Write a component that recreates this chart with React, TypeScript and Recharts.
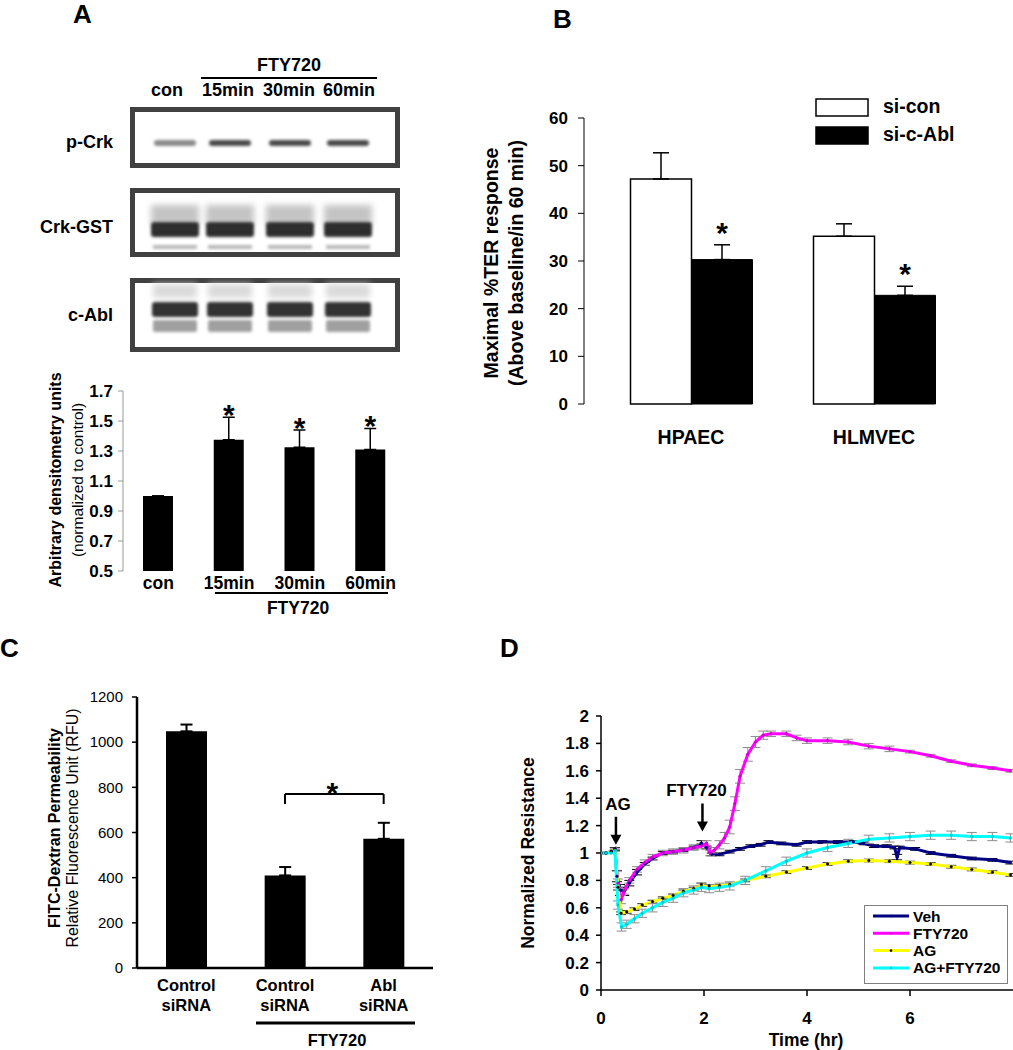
import React from "react";
import {
  BarChart,
  Bar,
  XAxis,
  YAxis,
  ErrorBar,
  LabelList,
  LineChart,
  Line,
  Legend,
  ReferenceLine,
  ReferenceDot,
  Label,
} from "recharts";

const FONT = '"Liberation Sans", Arial, Helvetica, sans-serif';

// panel A: densitometry of p-Crk
const aCategories = ["con", "15min", "30min", "60min"];
const aValues = [1.0, 1.375, 1.325, 1.31];
const aErrors = [0, 0.15, 0.115, 0.14];
const aSignificant = [false, true, true, true];
const aTicks = [0.5, 0.7, 0.9, 1.1, 1.3, 1.5, 1.7];
const blotRows = ["p-Crk", "Crk-GST", "c-Abl"];

// panel B: maximal TER response
const bCategories = ["HPAEC", "HLMVEC"];
const bSeriesNames = ["si-con", "si-c-Abl"];
const bSiCon = [47.2, 35.2];
const bSiConErr = [5.5, 2.6];
const bSiAbl = [30.3, 22.8];
const bSiAblErr = [3.1, 1.9];
const bSignificant = [true, true];
const bTicks = [0, 10, 20, 30, 40, 50, 60];

// panel C: FITC-dextran permeability
const cKeys = ["ctl", "ctlFty", "abl"];
const cLabels = [
  ["Control", "siRNA"],
  ["Control", "siRNA"],
  ["Abl", "siRNA"],
];
const cValues = [1048, 410, 572];
const cErrors = [30, 37, 71];
const cTicks = [0, 200, 400, 600, 800, 1000, 1200];
const cBracket = { from: "ctlFty", to: "abl", y: 770, foot: 726 };

// panel D: normalized resistance time course
const vehTime = [0, 0.1, 0.2, 0.27, 0.31, 0.37, 0.45, 0.55, 0.7, 0.85, 1.0, 1.2, 1.4, 1.6, 1.8, 1.95, 2.05, 2.15, 2.3, 2.5, 2.7, 2.9, 3.1, 3.25, 3.5, 3.8, 4.0, 4.3, 4.6, 4.9, 5.1, 5.3, 5.55, 5.7, 5.75, 5.8, 6.1, 6.4, 6.8, 7.2, 7.6, 7.95];
const vehValue = [1.0, 1.0, 1.01, 1.03, 0.83, 0.73, 0.72, 0.78, 0.86, 0.92, 0.96, 1.0, 1.01, 1.02, 1.04, 1.07, 1.04, 0.99, 0.99, 1.01, 1.03, 1.05, 1.06, 1.08, 1.07, 1.06, 1.08, 1.08, 1.08, 1.08, 1.07, 1.05, 1.05, 1.04, 0.97, 1.04, 1.03, 1.0, 0.98, 0.96, 0.95, 0.93];
const vehErr = [0, 0, 0, 0.01, 0.04, 0.04, 0.03, 0.02, 0.02, 0.01, 0.01, 0.01, 0.01, 0.01, 0.01, 0.02, 0.01, 0.01, 0.01, 0.01, 0.01, 0.01, 0.01, 0.01, 0.01, 0.01, 0.01, 0.01, 0.01, 0.01, 0.01, 0.01, 0.01, 0.01, 0.02, 0.01, 0.01, 0.01, 0.01, 0.01, 0.01, 0.01];

const ftyTime = [0, 0.1, 0.2, 0.27, 0.33, 0.39, 0.45, 0.55, 0.7, 0.85, 1.0, 1.2, 1.4, 1.6, 1.8, 1.95, 2.05, 2.12, 2.2, 2.3, 2.4, 2.5, 2.6, 2.7, 2.85, 3.0, 3.15, 3.3, 3.6, 3.8, 4.0, 4.4, 4.8, 5.2, 5.6, 6.0, 6.4, 6.8, 7.2, 7.6, 7.95];
const ftyValue = [1.0, 1.0, 1.01, 1.03, 0.78, 0.66, 0.72, 0.8, 0.88, 0.93, 0.97, 1.0, 1.01, 1.02, 1.04, 1.05, 1.07, 1.0, 1.02, 1.06, 1.11, 1.19, 1.36, 1.56, 1.72, 1.81, 1.86, 1.87, 1.87, 1.84, 1.82, 1.82, 1.81, 1.78, 1.76, 1.74, 1.71, 1.67, 1.64, 1.62, 1.6];
const ftyErr = [0, 0, 0, 0.01, 0.03, 0.03, 0.02, 0.02, 0.02, 0.02, 0.02, 0.02, 0.02, 0.02, 0.02, 0.02, 0.02, 0.02, 0.02, 0.03, 0.04, 0.05, 0.05, 0.05, 0.05, 0.04, 0.03, 0.02, 0.02, 0.02, 0.02, 0.02, 0.02, 0.02, 0.02, 0.01, 0.01, 0.01, 0.01, 0.01, 0.01];

const agTime = [0, 0.1, 0.2, 0.27, 0.33, 0.39, 0.5, 0.65, 0.8, 1.0, 1.2, 1.4, 1.6, 1.8, 1.95, 2.1, 2.3, 2.5, 2.8, 3.2, 3.6, 4.0, 4.4, 4.8, 5.2, 5.6, 6.0, 6.4, 6.8, 7.2, 7.6, 7.95];
const agValue = [1.0, 1.0, 1.01, 1.03, 0.75, 0.56, 0.57, 0.59, 0.62, 0.645, 0.67, 0.69, 0.72, 0.74, 0.77, 0.76, 0.76, 0.77, 0.8, 0.83, 0.86, 0.89, 0.92, 0.94, 0.945, 0.94, 0.93, 0.92, 0.9, 0.88, 0.86, 0.84];
const agErr = [0, 0, 0, 0.01, 0.02, 0.01, 0.01, 0.01, 0.01, 0.01, 0.01, 0.01, 0.01, 0.01, 0.01, 0.01, 0.01, 0.01, 0.01, 0.01, 0.01, 0.01, 0.01, 0.01, 0.01, 0.01, 0.01, 0.01, 0.01, 0.01, 0.01, 0.01];

const agFtyTime = [0, 0.1, 0.2, 0.27, 0.33, 0.4, 0.5, 0.65, 0.8, 1.0, 1.2, 1.4, 1.6, 1.8, 1.95, 2.1, 2.3, 2.5, 2.8, 3.2, 3.6, 4.0, 4.4, 4.8, 5.2, 5.6, 6.0, 6.4, 6.8, 7.2, 7.6, 7.95];
const agFtyValue = [1.0, 1.0, 1.0, 1.02, 0.62, 0.46, 0.48, 0.52, 0.56, 0.6, 0.64, 0.67, 0.71, 0.73, 0.75, 0.74, 0.75, 0.76, 0.8, 0.87, 0.94, 1.0, 1.04, 1.07, 1.1, 1.11, 1.12, 1.13, 1.13, 1.12, 1.12, 1.11];
const agFtyErr = [0, 0, 0, 0.01, 0.03, 0.03, 0.03, 0.03, 0.03, 0.03, 0.03, 0.03, 0.03, 0.03, 0.03, 0.03, 0.03, 0.03, 0.03, 0.03, 0.03, 0.03, 0.03, 0.03, 0.03, 0.03, 0.03, 0.03, 0.03, 0.03, 0.03, 0.03];

const dTimeTicks = [0, 2, 4, 6];
const dValueTicks = [0, 0.2, 0.4, 0.6, 0.8, 1, 1.2, 1.4, 1.6, 1.8, 2];
const dArrows = [
  { label: "AG", t: 0.29, v: 1.06, dx: 2 },
  { label: "FTY720", t: 1.97, v: 1.157, dx: -6 },
];

const aData = aCategories.map((name, i) => ({ name, v: aValues[i], e: [0, aErrors[i]] }));
const bData = bCategories.map((name, i) => ({
  name,
  con: bSiCon[i],
  conErr: [0, bSiConErr[i]],
  abl: bSiAbl[i],
  ablErr: [0, bSiAblErr[i]],
}));
const cData = cKeys.map((key, i) => ({ key, v: cValues[i], e: [0, cErrors[i]] }));

const rows = (time: number[], value: number[], err: number[]) =>
  time.map((t, i) => ({ t, v: value[i], e: err[i] }));

const dSeries = [
  { name: "Veh", color: "#000080", dot: "#000080", err: "#000000", data: rows(vehTime, vehValue, vehErr) },
  { name: "FTY720", color: "#ff00ff", dot: "#d000d0", err: "#8c8c8c", data: rows(ftyTime, ftyValue, ftyErr) },
  { name: "AG", color: "#ffff00", dot: "#000000", err: "#333333", data: rows(agTime, agValue, agErr) },
  { name: "AG+FTY720", color: "#00ffff", dot: "#00c8c8", err: "#8c8c8c", data: rows(agFtyTime, agFtyValue, agFtyErr) },
];

const boldTick = (size: number) => ({
  fill: "#000",
  fontSize: size,
  fontWeight: "bold" as const,
  fontFamily: FONT,
});

// legend entries come back sorted by name; put them back in series order
const inOrder = (payload: any[], names: string[]) =>
  [...payload].sort((a, b) => names.indexOf(a.value) - names.indexOf(b.value));

function starContent(values: number[], base: number, errors: number[], flags: boolean[], lift: number) {
  return (props: any) => {
    const i = props.index;
    if (i == null || !flags[i]) return null;
    const vb = props.viewBox ?? props;
    const { x, y, width, height } = vb;
    const ppu = height / (values[i] - base);
    const top = y - errors[i] * ppu;
    return (
      <text
        x={x + width / 2}
        y={top + lift}
        textAnchor="middle"
        fontSize={30}
        fontWeight="bold"
        fontFamily={FONT}
        fill="#000"
      >
        *
      </text>
    );
  };
}

function CTick(props: any) {
  const { x, y, payload } = props;
  const idx = cKeys.indexOf(payload.value);
  const lines = cLabels[idx] ?? ["", ""];
  return (
    <text x={x} y={y} textAnchor="middle" fontSize={16.5} fontWeight="bold" fontFamily={FONT} fill="#000">
      <tspan x={x} dy={23}>
        {lines[0]}
      </tspan>
      <tspan x={x} dy={20}>
        {lines[1]}
      </tspan>
    </text>
  );
}

function LegendB(props: any) {
  const items = inOrder(props.payload ?? [], bSeriesNames);
  return (
    <svg width={190} height={50} style={{ display: "block", overflow: "visible" }}>
      {items.map((p: any, i: number) => (
        <g key={i}>
          <rect x={1} y={1 + i * 28} width={52} height={17} fill={p.color} stroke="#000" strokeWidth={1.5} />
          <text x={68} y={15 + i * 28} fontSize={19.5} fontWeight="bold" fontFamily={FONT} fill="#000">
            {p.value}
          </text>
        </g>
      ))}
    </svg>
  );
}

function LegendD(props: any) {
  const items = inOrder(props.payload ?? [], dSeries.map((d) => d.name));
  return (
    <svg width={144} height={79} style={{ display: "block" }}>
      <rect x={0.5} y={0.5} width={143} height={78} fill="#fff" stroke="#808080" strokeWidth={1} />
      {items.map((p: any, i: number) => {
        const cy = 11 + i * 17.3;
        const s = dSeries.find((d) => d.name === p.value);
        return (
          <g key={i}>
            <line x1={9} x2={45} y1={cy} y2={cy} stroke={p.color} strokeWidth={3} />
            <circle cx={27} cy={cy} r={1.3} fill={s ? s.dot : p.color} />
            <text x={49} y={cy + 5.5} fontSize={15.5} fontWeight="bold" fontFamily={FONT} fill="#000">
              {p.value}
            </text>
          </g>
        );
      })}
    </svg>
  );
}

function arrowShape(label: string, dx: number) {
  return (props: any) => {
    const { cx, cy } = props;
    return (
      <g>
        <line x1={cx} x2={cx} y1={cy - 28} y2={cy - 8} stroke="#000" strokeWidth={2.5} />
        <polygon points={`${cx - 5.5},${cy - 10} ${cx + 5.5},${cy - 10} ${cx},${cy}`} fill="#000" />
        <text x={cx + dx} y={cy - 35} textAnchor="middle" fontSize={17} fontWeight="bold" fontFamily={FONT} fill="#000">
          {label}
        </text>
      </g>
    );
  };
}

function Blot() {
  const lanes = [175, 230, 290, 348];
  const boxes = [
    { y: 107, h: 61 },
    { y: 188, h: 69 },
    { y: 278, h: 74 },
  ];
  return (
    <g>
      <defs>
        <filter id="soft" x="-20%" y="-50%" width="140%" height="200%">
          <feGaussianBlur stdDeviation="1.6" />
        </filter>
        <filter id="haze" x="-20%" y="-50%" width="140%" height="200%">
          <feGaussianBlur stdDeviation="3" />
        </filter>
      </defs>
      {boxes.map((b, i) => (
        <rect key={i} x={132.5} y={b.y + 2.5} width={265} height={b.h - 5} fill="#fff" stroke="#404040" strokeWidth={5} />
      ))}
      {lanes.map((c, i) => (
        <g key={i}>
          <rect x={c - 21} y={140} width={42} height={6} rx={3} fill={i === 0 ? "#8a8a8a" : "#4a4a4a"} filter="url(#soft)" />
          <rect x={c - 24} y={205} width={48} height={20} fill="#c4c4c4" filter="url(#haze)" />
          <rect x={c - 24} y={222} width={48} height={15} rx={3} fill="#2e2e2e" filter="url(#soft)" />
          <rect x={c - 22} y={245} width={44} height={4} fill="#b8b8b8" filter="url(#soft)" />
          <rect x={c - 22} y={284} width={44} height={14} fill="#dadada" filter="url(#haze)" />
          <rect x={c - 23} y={302} width={46} height={15} rx={3} fill="#333" filter="url(#soft)" />
          <rect x={c - 22} y={320} width={44} height={12} rx={2} fill="#a0a0a0" filter="url(#soft)" />
        </g>
      ))}
    </g>
  );
}

const t = (size: number, bold = true) => ({
  fontSize: size,
  fontWeight: bold ? ("bold" as const) : ("normal" as const),
  fontFamily: FONT,
  fill: "#000",
});

function Overlay() {
  const vLabel = (x: number, y: number, text: string, size: number, bold = true) => (
    <text x={x} y={y} transform={`rotate(-90 ${x} ${y})`} textAnchor="middle" dominantBaseline="central" {...t(size, bold)}>
      {text}
    </text>
  );
  return (
    <svg width={1013} height={1050} style={{ position: "absolute", left: 0, top: 0, pointerEvents: "none" }}>
      {/* panel letters */}
      <text x={73} y={23} {...t(26)}>A</text>
      <text x={553} y={28} {...t(26)}>B</text>
      <text x={0} y={657} {...t(26)}>C</text>
      <text x={500} y={657} {...t(26)}>D</text>

      {/* western blot */}
      <Blot />
      <text x={289} y={71} textAnchor="middle" {...t(18)}>FTY720</text>
      <line x1={201} x2={377} y1={78} y2={78} stroke="#000" strokeWidth={2} />
      {aCategories.map((c, i) => (
        <text key={c} x={[167, 228, 289, 349][i]} y={96} textAnchor="middle" {...t(18)}>
          {c}
        </text>
      ))}
      {blotRows.map((r, i) => (
        <text key={r} x={113} y={[148, 233, 321][i]} textAnchor="end" {...t(18)}>
          {r}
        </text>
      ))}

      {/* panel A chart annotations */}
      {vLabel(55, 480, "Arbitrary densitometry units", 16)}
      {vLabel(77, 480, "(normalized to control)", 15.5, false)}
      <line x1={215} x2={388} y1={593} y2={593} stroke="#000" strokeWidth={2} />
      <text x={298} y={614} textAnchor="middle" {...t(17.5)}>FTY720</text>

      {/* panel B */}
      {vLabel(491, 263, "Maximal %TER response", 19.5)}
      {vLabel(516, 263, "(Above baseline/in 60 min)", 19.5)}

      {/* panel C */}
      {vLabel(54, 828, "FITC-Dextran Permeability", 16)}
      {vLabel(72, 828, "Relative Fluorescence Unit (RFU)", 16, false)}
      <line x1={256} x2={415} y1={1023} y2={1023} stroke="#000" strokeWidth={3} />
      <text x={337} y={1046} textAnchor="middle" {...t(16.5)}>FTY720</text>

      {/* panel D */}
      {vLabel(528, 853, "Normalized Resistance", 17.5)}
      <text x={806} y={1046} textAnchor="middle" {...t(17.5)}>Time (hr)</text>
    </svg>
  );
}

function PanelA() {
  return (
    <div style={{ position: "absolute", left: 0, top: 380 }}>
      <BarChart width={420} height={240} data={aData} margin={{ top: 11, right: 14, bottom: 0, left: 78 }}>
        <XAxis
          xAxisId="grid"
          type="number"
          domain={[0, 4]}
          ticks={[0, 1, 2, 3, 4]}
          tick={false}
          height={0}
          tickSize={4}
          axisLine={{ stroke: "#999" }}
          tickLine={{ stroke: "#999" }}
        />
        <XAxis
          xAxisId="cat"
          dataKey="name"
          height={49}
          axisLine={false}
          tickLine={false}
          tickSize={0}
          tickMargin={6}
          tick={boldTick(17.5)}
          interval={0}
        />
        <YAxis
          width={45}
          domain={[0.5, 1.7]}
          ticks={aTicks}
          allowDataOverflow
          tickFormatter={(v: number) => v.toFixed(1)}
          axisLine={{ stroke: "#999" }}
          tickLine={{ stroke: "#999" }}
          tickSize={5}
          tickMargin={5}
          tick={boldTick(17)}
        />
        <Bar xAxisId="cat" dataKey="v" fill="#000" barSize={30} isAnimationActive={false}>
          <ErrorBar dataKey="e" direction="y" width={6} stroke="#000" strokeWidth={1.5} />
          <LabelList dataKey="v" content={starContent(aValues, 0.5, aErrors, aSignificant, 7.5)} />
        </Bar>
      </BarChart>
    </div>
  );
}

function PanelB() {
  return (
    <div style={{ position: "absolute", left: 430, top: 100 }}>
      <BarChart width={570} height={360} data={bData} margin={{ top: 18, right: 19, bottom: 6, left: 114 }} barGap={0}>
        <XAxis
          xAxisId="grid"
          type="number"
          domain={[0, 1]}
          ticks={[0, 1]}
          tick={false}
          height={0}
          tickSize={6}
          axisLine={{ stroke: "#000" }}
          tickLine={{ stroke: "#000" }}
        />
        <XAxis
          xAxisId="cat"
          dataKey="name"
          height={50}
          padding={{ left: 15.5, right: 15.5 }}
          axisLine={false}
          tickLine={false}
          tickSize={0}
          tickMargin={26}
          tick={boldTick(19.5)}
        />
        <YAxis
          width={40}
          domain={[0, 60]}
          ticks={bTicks}
          axisLine={{ stroke: "#000" }}
          tickLine={{ stroke: "#000" }}
          tickSize={6}
          tickMargin={10}
          tick={boldTick(17)}
        />
        <Legend
          layout="vertical"
          align="center"
          verticalAlign="middle"
          wrapperStyle={{ left: 385, top: -2, width: 190 }}
          content={LegendB}
        />
        <Bar xAxisId="cat" name={bSeriesNames[0]} dataKey="con" fill="#fff" stroke="#000" strokeWidth={1.5} barSize={61} isAnimationActive={false}>
          <ErrorBar dataKey="conErr" direction="y" width={8} stroke="#000" strokeWidth={1.5} />
        </Bar>
        <Bar xAxisId="cat" name={bSeriesNames[1]} dataKey="abl" fill="#000" stroke="#000" strokeWidth={1} barSize={61} isAnimationActive={false}>
          <ErrorBar dataKey="ablErr" direction="y" width={8} stroke="#000" strokeWidth={1.5} />
          <LabelList dataKey="abl" content={starContent(bSiAbl, 0, bSiAblErr, bSignificant, -2)} />
        </Bar>
      </BarChart>
    </div>
  );
}

function PanelC() {
  return (
    <div style={{ position: "absolute", left: 0, top: 680 }}>
      <BarChart width={470} height={370} data={cData} margin={{ top: 17, right: 37, bottom: 12, left: 87 }}>
        <XAxis
          dataKey="key"
          height={70}
          axisLine={{ stroke: "#000", strokeWidth: 2.5 }}
          tickLine={false}
          tickSize={0}
          tickMargin={0}
          tick={<CTick />}
          interval={0}
        />
        <YAxis
          width={50}
          domain={[0, 1200]}
          ticks={cTicks}
          axisLine={{ stroke: "#000", strokeWidth: 2.5 }}
          tickLine={{ stroke: "#000", strokeWidth: 1.5 }}
          tickSize={5}
          tickMargin={9}
          tick={{ fill: "#000", fontSize: 15, fontFamily: FONT }}
        />
        <Bar dataKey="v" fill="#000" barSize={41} isAnimationActive={false}>
          <ErrorBar dataKey="e" direction="y" width={6} stroke="#000" strokeWidth={2} />
        </Bar>
        <ReferenceLine
          segment={[
            { x: cBracket.from, y: cBracket.y },
            { x: cBracket.to, y: cBracket.y },
          ]}
          stroke="#000"
          strokeWidth={2}
        >
          <Label
            content={(p: any) => {
              const vb = p.viewBox ?? {};
              const cx = (vb.x ?? 0) + (vb.width ?? 0) / 2;
              return (
                <text x={cx - 2} y={(vb.y ?? 0) + 8.5} textAnchor="middle" {...t(30)}>
                  *
                </text>
              );
            }}
          />
        </ReferenceLine>
        <ReferenceLine
          segment={[
            { x: cBracket.from, y: cBracket.y },
            { x: cBracket.from, y: cBracket.foot },
          ]}
          stroke="#000"
          strokeWidth={2}
        />
        <ReferenceLine
          segment={[
            { x: cBracket.to, y: cBracket.y },
            { x: cBracket.to, y: cBracket.foot },
          ]}
          stroke="#000"
          strokeWidth={2}
        />
      </BarChart>
    </div>
  );
}

function PanelD() {
  return (
    <div style={{ position: "absolute", left: 480, top: 690 }}>
      <LineChart width={533} height={360} margin={{ top: 26, right: 0, bottom: 0, left: 76 }}>
        <XAxis
          type="number"
          dataKey="t"
          domain={[0, 8]}
          ticks={dTimeTicks}
          allowDataOverflow
          height={60}
          axisLine={{ stroke: "#000", strokeWidth: 1.5 }}
          tickLine={{ stroke: "#000", strokeWidth: 1.5 }}
          tickSize={6}
          tickMargin={16}
          tick={boldTick(17)}
        />
        <YAxis
          width={45}
          domain={[0, 2]}
          ticks={dValueTicks}
          axisLine={{ stroke: "#000", strokeWidth: 1.5 }}
          tickLine={{ stroke: "#000", strokeWidth: 1.5 }}
          tickSize={5}
          tickMargin={7}
          tick={boldTick(17)}
        />
        <Legend
          layout="vertical"
          align="center"
          verticalAlign="middle"
          wrapperStyle={{ left: 384, top: 215, width: 144 }}
          content={LegendD}
        />
        {dSeries.map((s) => (
          <Line
            key={s.name}
            name={s.name}
            data={s.data}
            dataKey="v"
            type="linear"
            stroke={s.color}
            strokeWidth={3}
            dot={{ r: 1.3, fill: s.dot, stroke: s.dot, strokeWidth: 0.5 }}
            isAnimationActive={false}
          >
            <ErrorBar dataKey="e" direction="y" width={5} stroke={s.err} strokeWidth={1} />
          </Line>
        ))}
        {dArrows.map((a) => (
          <ReferenceDot key={a.label} x={a.t} y={a.v} r={0} shape={arrowShape(a.label, a.dx)} />
        ))}
      </LineChart>
    </div>
  );
}

export default function App() {
  return (
    <div style={{ position: "relative", width: 1013, height: 1050, background: "#fff", overflow: "hidden", fontFamily: FONT }}>
      <style>{"body{margin:0}"}</style>
      <PanelA />
      <PanelB />
      <PanelC />
      <PanelD />
      <Overlay />
    </div>
  );
}
